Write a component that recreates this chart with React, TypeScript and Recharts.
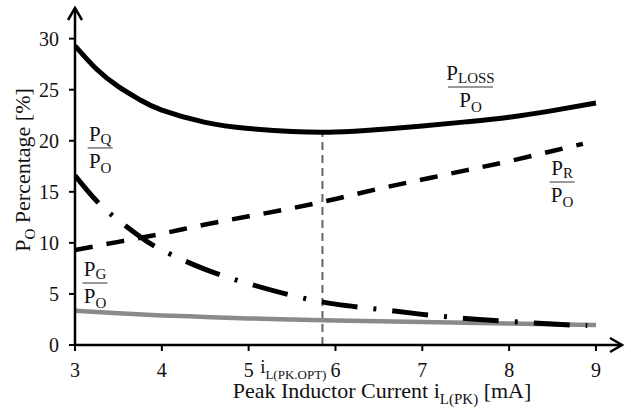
import { LineChart, Line, XAxis, YAxis, ReferenceLine, ReferenceDot, Label } from "recharts";

const FONT = "Liberation Serif";
const INK = "#111";

const xTicks = [3, 4, 5, 6, 7, 8, 9];
const yTicks = [0, 5, 10, 15, 20, 25, 30];

// P_LOSS / P_O
const lossX = [3, 3.25, 3.5, 3.75, 4, 4.5, 5, 5.5, 6, 6.5, 7, 7.5, 8, 8.5, 9];
const lossY = [29.3, 27.0, 25.3, 24.0, 23.0, 21.8, 21.2, 20.9, 20.85, 21.1, 21.45, 21.85, 22.3, 22.95, 23.7];

// P_R / P_O
const resX = [3, 3.5, 4, 4.5, 5, 5.5, 6, 6.5, 7, 7.5, 8, 8.5, 8.85];
const resY = [9.3, 10.1, 10.9, 11.8, 12.6, 13.4, 14.3, 15.3, 16.2, 17.1, 18.0, 19.0, 19.7];

// P_Q / P_O
const quiX = [3, 3.25, 3.5, 3.75, 4, 4.5, 5, 5.5, 6, 6.5, 7, 7.5, 8, 8.5, 8.9];
const quiY = [16.6, 14.1, 12.2, 10.6, 9.3, 7.4, 6.0, 4.85, 4.0, 3.5, 3.0, 2.6, 2.3, 2.05, 1.9];

// P_G / P_O
const gateX = [3, 3.5, 4, 4.5, 5, 5.5, 6, 6.5, 7, 7.5, 8, 8.5, 9];
const gateY = [3.35, 3.1, 2.9, 2.75, 2.6, 2.5, 2.4, 2.32, 2.25, 2.18, 2.1, 2.02, 1.95];

// optimum peak current marker
const optX = 5.85;
const optY = 20.85;

// fraction labels: [subscript, x, y, width of bar]
const fracLabels: [string, number, number, number][] = [
  ["LOSS", 7.555, 25.27, 45],
  ["R", 8.61, 15.96, 25],
  ["Q", 3.29, 19.3, 25],
  ["G", 3.23, 6.07, 25],
];

const toPoints = (xs: number[], ys: number[]) => xs.map((x, i) => ({ x, y: ys[i] }));

const Frac = ({ cx, cy, sub, w }: any) => (
  <g fill={INK}>
    <text x={cx} y={cy - 7} textAnchor="middle" fontSize={21} fontFamily={FONT}>
      P<tspan fontSize={15} dy={3}>{sub}</tspan>
    </text>
    <line x1={cx - w / 2} x2={cx + w / 2} y1={cy} y2={cy} stroke="#777" strokeWidth={1.5} />
    <text x={cx} y={cy + 20} textAnchor="middle" fontSize={21} fontFamily={FONT}>
      P<tspan fontSize={15} dy={5}>O</tspan>
    </text>
  </g>
);

const XArrow = ({ cx, cy }: any) => (
  <path d={`M${cx - 12},${cy - 7} L${cx},${cy} L${cx - 12},${cy + 7}`} fill="none" stroke="#000" strokeWidth={2.5} />
);

const YArrow = ({ cx, cy }: any) => (
  <path d={`M${cx - 7},${cy + 12} L${cx},${cy} L${cx + 7},${cy + 12}`} fill="none" stroke="#000" strokeWidth={2.5} />
);

const OptLabel = ({ cx, cy }: any) => (
  <text x={cx + 4} y={cy + 28} textAnchor="end" fill={INK} fontSize={19} fontFamily={FONT}>
    i<tspan fontSize={13} dy={6}>L(PK.OPT)</tspan>
  </text>
);

const XTitle = () => (
  <text x={382} y={398} textAnchor="middle" fill={INK} fontSize={22} fontFamily={FONT}>
    Peak Inductor Current i<tspan fontSize={15} dy={6}>L(PK)</tspan>
    <tspan dy={-6}> [mA]</tspan>
  </text>
);

const YTitle = () => (
  <text x={30} y={170} transform="rotate(-90, 30, 170)" textAnchor="middle" fill={INK} fontSize={22} fontFamily={FONT}>
    P<tspan fontSize={15} dy={5}>O</tspan>
    <tspan dy={-5}> Percentage [%]</tspan>
  </text>
);

const tickStyle = { fontSize: 20, fill: INK, fontFamily: FONT };

export default function App() {
  return (
    <div style={{ position: "absolute", left: 0, top: 0, background: "#fff" }}>
      <LineChart width={631} height={413} margin={{ top: 8, right: 9, left: 0, bottom: 0 }}>
        <XAxis
          type="number"
          dataKey="x"
          domain={[3, 9.3]}
          ticks={xTicks}
          allowDataOverflow
          height={68}
          tick={tickStyle}
          tickSize={6}
          tickMargin={12}
          axisLine={{ stroke: "#000", strokeWidth: 2.5 }}
          tickLine={{ stroke: "#000", strokeWidth: 2 }}
        >
          <Label content={<XTitle />} />
        </XAxis>
        <YAxis
          type="number"
          dataKey="y"
          domain={[0, 33]}
          ticks={yTicks}
          allowDataOverflow
          width={75}
          tick={tickStyle}
          tickSize={6}
          tickMargin={10}
          axisLine={{ stroke: "#000", strokeWidth: 2.5 }}
          tickLine={{ stroke: "#000", strokeWidth: 2 }}
        >
          <Label content={<YTitle />} />
        </YAxis>
        <ReferenceLine
          segment={[{ x: optX, y: 0 }, { x: optX, y: optY }]}
          stroke="#666"
          strokeWidth={2}
          strokeDasharray="8 5"
        />
        <Line data={toPoints(gateX, gateY)} dataKey="y" type="natural" stroke="#8a8a8a" strokeWidth={4.5} dot={false} isAnimationActive={false} />
        <Line data={toPoints(resX, resY)} dataKey="y" type="natural" stroke="#000" strokeWidth={4.5} strokeDasharray="18 14" dot={false} isAnimationActive={false} />
        <Line data={toPoints(quiX, quiY)} dataKey="y" type="natural" stroke="#000" strokeWidth={5} strokeDasharray="36 16 3 16" dot={false} isAnimationActive={false} />
        <Line data={toPoints(lossX, lossY)} dataKey="y" type="natural" stroke="#000" strokeWidth={5} dot={false} isAnimationActive={false} />
        {fracLabels.map(([sub, x, y, w]) => (
          <ReferenceDot key={sub} x={x} y={y} ifOverflow="visible" shape={(p: any) => <Frac cx={p.cx} cy={p.cy} sub={sub} w={w} />} />
        ))}
        <ReferenceDot x={optX} y={0} ifOverflow="visible" shape={(p: any) => <OptLabel cx={p.cx} cy={p.cy} />} />
        <ReferenceDot x={9.3} y={0} ifOverflow="visible" shape={(p: any) => <XArrow cx={p.cx} cy={p.cy} />} />
        <ReferenceDot x={3} y={33} ifOverflow="visible" shape={(p: any) => <YArrow cx={p.cx} cy={p.cy} />} />
      </LineChart>
    </div>
  );
}
